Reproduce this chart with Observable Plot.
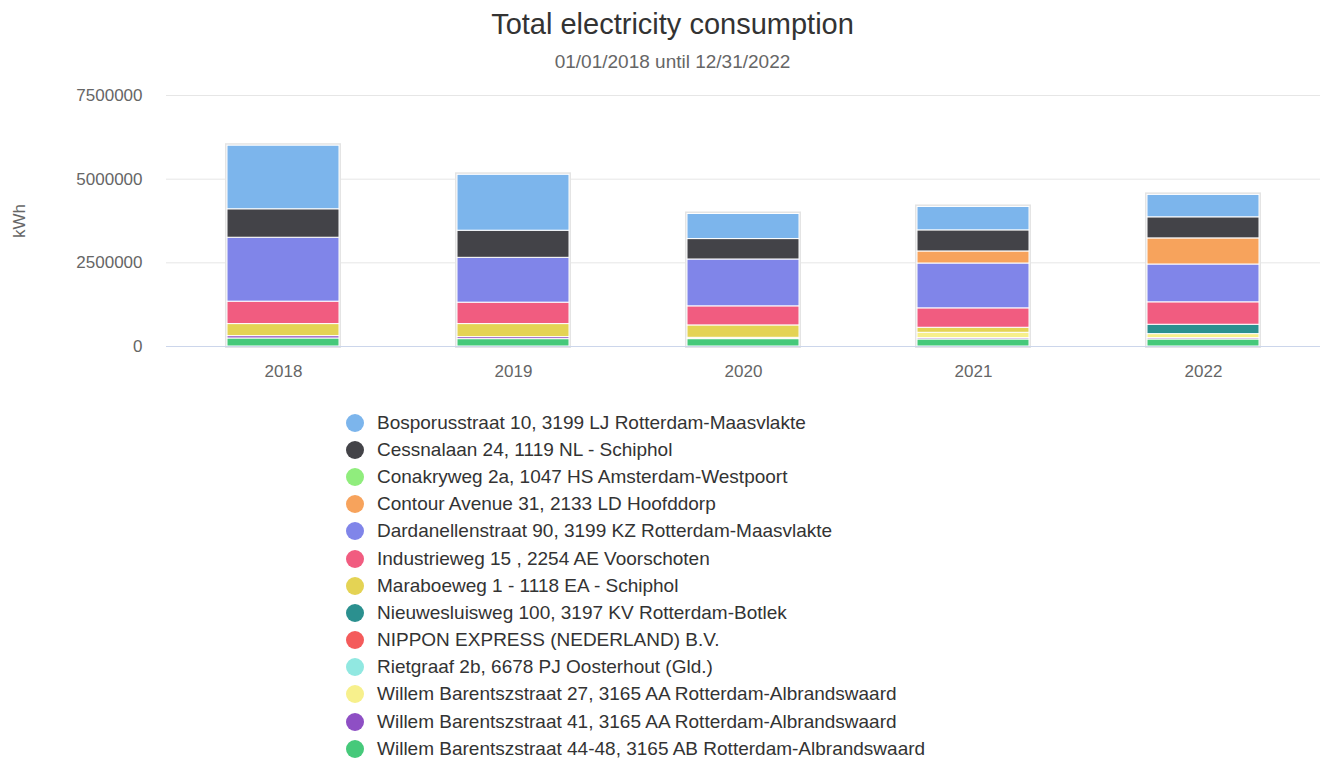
<!DOCTYPE html>
<html>
<head>
<meta charset="utf-8">
<script src="https://cdn.jsdelivr.net/npm/d3@7"></script>
<script src="https://cdn.jsdelivr.net/npm/@observablehq/plot@0.6"></script>
<style>
  html, body { margin: 0; padding: 0; background: #fff; }
  body { width: 1320px; height: 760px; position: relative; font-family: "Liberation Sans", Arial, sans-serif; overflow: hidden; }
  #title { position: absolute; left: 0; width: 1345px; top: 8px; text-align: center; font-size: 29px; color: #333; }
  #subtitle { position: absolute; left: 0; width: 1345px; top: 51px; text-align: center; font-size: 19px; color: #666; }
  #chart { position: absolute; left: 0; top: 78px; }
  #legend { position: absolute; left: 346px; top: 409px; }
  .item { height: 27.2px; display: flex; align-items: center; font-size: 19px; color: #333; white-space: nowrap; }
  .dot { width: 18px; height: 18px; border-radius: 50%; margin-right: 13px; flex: none; }
</style>
</head>
<body>
<div id="title">Total electricity consumption</div>
<div id="subtitle">01/01/2018 until 12/31/2022</div>
<div id="chart"></div>
<div id="legend"></div>
<script>
// Yearly consumption (kWh) per site
const years = ["2018", "2019", "2020", "2021", "2022"];
const bosporusstraat   = [1900000, 1670000, 750000, 700000, 670000];
const cessnalaan       = [850000, 810000, 610000, 630000, 630000];
const conakryweg       = [0, 0, 0, 0, 0];
const contourAvenue    = [0, 0, 0, 360000, 780000];
const dardanellen      = [1910000, 1340000, 1400000, 1340000, 1130000];
const industrieweg     = [670000, 640000, 570000, 580000, 670000];
const maraboeweg       = [360000, 390000, 370000, 150000, 0];
const nieuwesluisweg   = [0, 0, 0, 0, 280000];
const nipponExpress    = [0, 0, 0, 0, 0];
const rietgraaf        = [0, 0, 0, 0, 0];
const willemB27        = [0, 0, 40000, 160000, 120000];
const willemB41        = [70000, 60000, 0, 40000, 40000];
const willemB4448      = [240000, 220000, 220000, 210000, 210000];

const seriesNames = [
  "Bosporusstraat 10, 3199 LJ Rotterdam-Maasvlakte",
  "Cessnalaan 24, 1119 NL - Schiphol",
  "Conakryweg 2a, 1047 HS Amsterdam-Westpoort",
  "Contour Avenue 31, 2133 LD Hoofddorp",
  "Dardanellenstraat 90, 3199 KZ Rotterdam-Maasvlakte",
  "Industrieweg 15 , 2254 AE Voorschoten",
  "Maraboeweg 1 - 1118 EA - Schiphol",
  "Nieuwesluisweg 100, 3197 KV Rotterdam-Botlek",
  "NIPPON EXPRESS (NEDERLAND) B.V.",
  "Rietgraaf 2b, 6678 PJ Oosterhout (Gld.)",
  "Willem Barentszstraat 27, 3165 AA Rotterdam-Albrandswaard",
  "Willem Barentszstraat 41, 3165 AA Rotterdam-Albrandswaard",
  "Willem Barentszstraat 44-48, 3165 AB Rotterdam-Albrandswaard"
];
const seriesValues = [
  bosporusstraat, cessnalaan, conakryweg, contourAvenue, dardanellen,
  industrieweg, maraboeweg, nieuwesluisweg, nipponExpress, rietgraaf,
  willemB27, willemB41, willemB4448
];
const seriesColors = [
  "#7cb5ec", "#434348", "#90ed7d", "#f7a35c", "#8085e9",
  "#f15c80", "#e4d354", "#2b908f", "#f45b5b", "#91e8e1",
  "#f7f08c", "#8e4fc4", "#46c97a"
];
const yTicks = [0, 2500000, 5000000, 7500000];

// Long-format rows; the first series in the legend sits on top of the stack.
const rows = [];
for (let s = seriesNames.length - 1; s >= 0; s--) {
  years.forEach((y, i) => rows.push({year: y, site: seriesNames[s], value: seriesValues[s][i]}));
}
const totals = years.map((y, i) => ({year: y, total: d3.sum(seriesValues, v => v[i])}));

const plot = Plot.plot({
  width: 1320,
  height: 310,
  marginLeft: 166,
  marginRight: 0,
  marginTop: 17,
  marginBottom: 42,
  style: {fontFamily: "Liberation Sans, Arial, sans-serif", fontSize: "17px", color: "#666", background: "#fff"},
  x: {domain: years, paddingInner: 0.515, paddingOuter: 0.2575, label: null},
  y: {domain: [0, 7500000]},
  color: {domain: seriesNames, range: seriesColors},
  marks: [
    Plot.ruleY(yTicks.filter(d => d > 0), {stroke: "#e6e6e6", strokeWidth: 1}),
    Plot.axisY({ticks: yTicks, tickFormat: d3.format("d"), tickSize: 0, tickPadding: 24,
      label: "kWh", labelAnchor: "center", labelArrow: "none", labelOffset: 154, fill: "#666"}),
    Plot.axisX({tickSize: 0, tickPadding: 18, label: null, fill: "#666"}),
    Plot.barY(totals, {x: "year", y: "total", fill: "none", stroke: "#e4e4e4", strokeWidth: 2, inset: -1}),
    Plot.barY(rows.filter(d => d.value > 0), {x: "year", y: "value", fill: "site", stroke: "#fff", strokeWidth: 1, order: null}),
    Plot.ruleY([0], {stroke: "#ccd6eb", strokeWidth: 1})
  ]
});
document.getElementById("chart").appendChild(plot);

const legend = d3.select("#legend");
seriesNames.forEach((name, i) => {
  const item = legend.append("div").attr("class", "item");
  item.append("div").attr("class", "dot").style("background", seriesColors[i]);
  item.append("span").text(name);
});
</script>
</body>
</html>
